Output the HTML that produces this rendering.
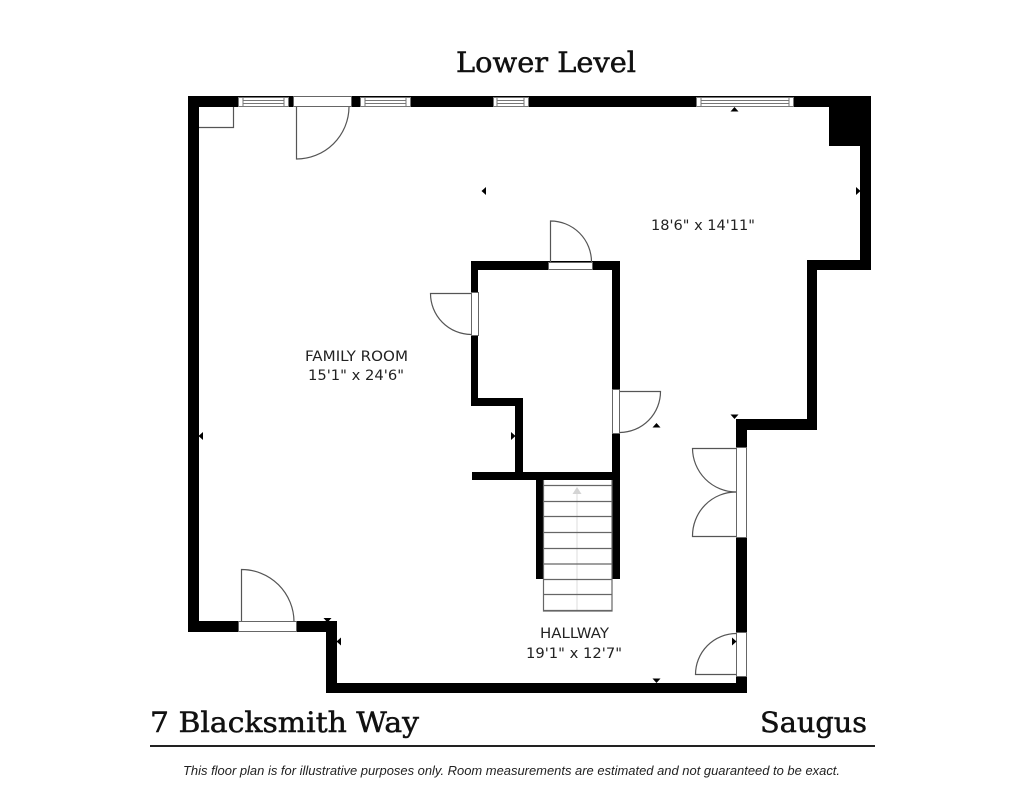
<!DOCTYPE html>
<html>
<head>
<meta charset="utf-8">
<style>
html,body{margin:0;padding:0;background:#fff}
svg{display:block}
</style>
</head>
<body>
<svg xmlns="http://www.w3.org/2000/svg" width="1024" height="791" viewBox="0 0 1024 791">
<rect width="1024" height="791" fill="#fff"/>
<!-- outer walls -->
<path fill="#000" fill-rule="evenodd" d="M188 96H871V270H817V430H747V693H326V632H188Z M199 107V621H337V683H736V419H807V260H860V146H829V107Z"/>
<!-- inner walls -->
<path fill="#000" d="M471 261H620V579H612V480H543V579H536V480H472V472H515V406H471Z M478 270V398H523V472H612V270Z"/>
<!-- openings -->
<g fill="#fff" stroke="#666" stroke-width="1">
<rect x="293.500" y="96.500" width="58" height="10"/>
<rect x="548.500" y="262.500" width="44" height="7"/>
<rect x="471.500" y="292.500" width="7" height="43"/>
<rect x="612.500" y="389.500" width="7" height="44"/>
<rect x="736.500" y="447.500" width="10" height="90"/>
<rect x="238.500" y="621.500" width="58" height="10"/>
<rect x="736.500" y="632.500" width="10" height="44"/>
</g>
<!-- windows -->
<g fill="#fff" stroke="#777" stroke-width="1">
<rect x="238.500" y="97.500" width="50" height="9"/><path d="M243 97V106M284 97V106M243 100.500H284M243 103.500H284"/>
<rect x="360.500" y="97.500" width="50" height="9"/><path d="M365 97V106M406 97V106M365 100.500H406M365 103.500H406"/>
<rect x="493.500" y="97.500" width="35" height="9"/><path d="M497 97V106M524 97V106M497 100.500H524M497 103.500H524"/>
<rect x="696.500" y="97.500" width="97" height="9"/><path d="M701 97V106M789 97V106M701 100.500H789M701 103.500H789"/>
</g>
<!-- closet box, door swings -->
<g fill="none" stroke="#555" stroke-width="1.200">
<path d="M199 127.500H233.500V107"/>
<path d="M296.500 107V159A52.500 52.500 0 0 0 349 107"/>
<path d="M550.500 262V221A41 41 0 0 1 591.500 262"/>
<path d="M471 293.500H430.500A41 41 0 0 0 471 334.500"/>
<path d="M620 391.500H660.500A41 41 0 0 1 620 432.500"/>
<path d="M736 448.500H692.500A44 44 0 0 0 736 492"/>
<path d="M736 536.500H692.500A44 44 0 0 1 736 492"/>
<path d="M241.500 621V569.500A52.500 52.500 0 0 1 294 621.500"/>
<path d="M736 674.500H695.500A41 41 0 0 1 736 633.500"/>
</g>
<!-- stairs -->
<path d="M577 492V611" stroke="#ddd" stroke-width="1" fill="none"/>
<path d="M572.500 494L577 487L581.500 494Z" fill="#d4d4d4"/>
<g stroke="#666" stroke-width="1.200" fill="none">
<path d="M543.500 480V611H612V480"/>
<path d="M543 485.500H612M543 501.500H612M543 516.500H612M543 532.500H612M543 548.500H612M543 564H612M543 579.500H612M543 594.500H612M543 610.500H612"/>
</g>
<!-- small markers -->
<g fill="#000">
<path d="M730.500 111.500L734.500 107L738.500 111.500Z"/>
<path d="M481.500 191L486 187V195Z"/>
<path d="M860.500 191L856 187V195Z"/>
<path d="M198.500 436L203 432V440Z"/>
<path d="M515.500 436L511 432V440Z"/>
<path d="M652.500 427.500L656.500 423L660.500 427.500Z"/>
<path d="M730.500 414.500L734.500 419L738.500 414.500Z"/>
<path d="M323.500 618L327.500 622.500L331.500 618Z"/>
<path d="M336.500 641.500L341 637.500V645.500Z"/>
<path d="M652.500 678.500L656.500 683L660.500 678.500Z"/>
<path d="M736.500 641.500L732 637.500V645.500Z"/>
</g>
<!-- titles -->
<g fill="#111" stroke="#111" stroke-width="0.500" font-family="'DejaVu Serif','Liberation Serif',serif">
<text x="456" y="72" font-size="28" textLength="180" lengthAdjust="spacingAndGlyphs">Lower Level</text>
<text x="150" y="732" font-size="28" textLength="269" lengthAdjust="spacingAndGlyphs">7 Blacksmith Way</text>
<text x="760" y="732" font-size="28" textLength="107" lengthAdjust="spacingAndGlyphs">Saugus</text>
</g>
<rect x="150" y="745" width="725" height="2" fill="#222"/>
<!-- room labels -->
<g fill="#222" font-family="'DejaVu Sans','Liberation Sans',sans-serif" font-size="14">
<text x="305" y="361" textLength="103" lengthAdjust="spacingAndGlyphs">FAMILY ROOM</text>
<text x="308" y="380" textLength="96" lengthAdjust="spacingAndGlyphs">15'1" x 24'6"</text>
<text x="651" y="230" textLength="104" lengthAdjust="spacingAndGlyphs">18'6" x 14'11"</text>
<text x="540" y="638" textLength="69" lengthAdjust="spacingAndGlyphs">HALLWAY</text>
<text x="526" y="658" textLength="96" lengthAdjust="spacingAndGlyphs">19'1" x 12'7"</text>
</g>
<text x="183" y="775" fill="#222" font-family="'Liberation Sans',sans-serif" font-style="italic" font-size="13" textLength="657" lengthAdjust="spacingAndGlyphs">This floor plan is for illustrative purposes only. Room measurements are estimated and not guaranteed to be exact.</text>
</svg>
</body>
</html>
